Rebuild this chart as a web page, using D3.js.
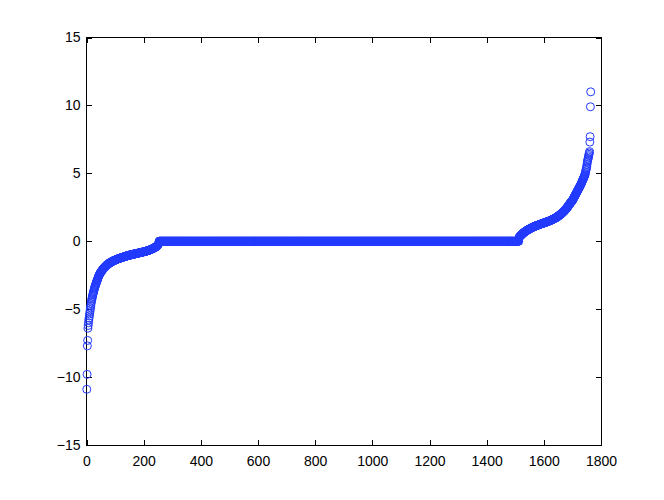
<!DOCTYPE html>
<html>
<head>
<meta charset="utf-8">
<title>Sorted values</title>
<style>
body { margin: 0; background: #fff; }
svg { display: block; }
</style>
<script src="https://d3js.org/d3.v7.min.js"></script>
</head>
<body>
<script>
// left tail, one value per index starting at index 1
var leftVal = [-10.9, -9.8, -7.7, -7.3, -6.4,
  -6.2, -6.0, -5.8, -5.65, -5.5, -5.35, -5.2, -5.05, -4.9, -4.75,
  -4.6, -4.47, -4.35, -4.25, -4.15, -4.05, -3.95, -3.87, -3.78, -3.7,
  -3.62, -3.53, -3.45, -3.39, -3.32, -3.26, -3.2, -3.14, -3.07, -3.01,
  -2.95, -2.89, -2.84, -2.78, -2.72, -2.67, -2.61, -2.56, -2.5, -2.45,
  -2.42, -2.38, -2.35, -2.31, -2.28, -2.25, -2.22, -2.19, -2.16, -2.13, -2.1,
  -2.07, -2.05, -2.02, -2.0, -1.97, -1.95,
  -1.93, -1.91, -1.89, -1.86, -1.84, -1.82, -1.8, -1.78,
  -1.76, -1.74, -1.73, -1.71, -1.69, -1.67, -1.66, -1.64,
  -1.63, -1.61, -1.6, -1.58, -1.57, -1.56, -1.54, -1.53,
  -1.52, -1.51, -1.5, -1.49, -1.47, -1.46, -1.45, -1.44, -1.43,
  -1.42, -1.41, -1.4, -1.4, -1.39, -1.38, -1.37, -1.36, -1.35, -1.34,
  -1.33, -1.32, -1.32, -1.31, -1.3, -1.29, -1.28, -1.28, -1.27, -1.26,
  -1.25, -1.25, -1.24, -1.23, -1.22, -1.22, -1.21, -1.2, -1.2, -1.19,
  -1.18, -1.18, -1.17, -1.16, -1.16, -1.15, -1.14, -1.14, -1.13, -1.12,
  -1.11, -1.11, -1.1, -1.1, -1.09, -1.08, -1.08, -1.07, -1.07, -1.06,
  -1.05, -1.05, -1.04, -1.04, -1.03, -1.02, -1.02, -1.01, -1.01, -1.0,
  -1.0, -0.99, -0.99, -0.98, -0.98, -0.97, -0.97, -0.96, -0.96, -0.95,
  -0.95, -0.94, -0.94, -0.93, -0.93, -0.92, -0.92, -0.91, -0.91, -0.9,
  -0.9, -0.89, -0.89, -0.88, -0.88, -0.87, -0.87, -0.86, -0.86, -0.85,
  -0.85, -0.84, -0.84, -0.83, -0.83, -0.82, -0.82, -0.81, -0.81, -0.8,
  -0.8, -0.79, -0.79, -0.78, -0.78, -0.77, -0.77, -0.76, -0.76, -0.75,
  -0.74, -0.74, -0.73, -0.73, -0.72, -0.72, -0.71, -0.7, -0.7, -0.69,
  -0.68, -0.67, -0.67, -0.66, -0.65, -0.65, -0.64,
  -0.63, -0.62, -0.61, -0.6, -0.59, -0.58,
  -0.57, -0.56, -0.55, -0.54, -0.53, -0.52,
  -0.51, -0.5, -0.48, -0.47, -0.46, -0.45,
  -0.44, -0.42, -0.41, -0.4, -0.38,
  -0.36, -0.34, -0.32, -0.3,
  -0.27, -0.23, -0.2, -0.15];

// right tail, one value per index starting at rightStart
var rightStart = 1513;
var rightVal = [0.25,
  0.3, 0.33, 0.35, 0.38, 0.4,
  0.42, 0.44, 0.46, 0.48, 0.5,
  0.52, 0.54, 0.56, 0.58, 0.6,
  0.62, 0.63, 0.65, 0.67, 0.68, 0.7,
  0.71, 0.73, 0.74, 0.76, 0.77, 0.79, 0.8,
  0.81, 0.82, 0.84, 0.85, 0.86, 0.87, 0.89, 0.9,
  0.91, 0.92, 0.93, 0.94, 0.96, 0.97, 0.98, 0.99, 1.0,
  1.01, 1.02, 1.03, 1.04, 1.05, 1.06, 1.07, 1.08, 1.09, 1.1,
  1.11, 1.12, 1.12, 1.13, 1.14, 1.15, 1.16, 1.16, 1.17, 1.18,
  1.19, 1.2, 1.2, 1.21, 1.22, 1.23, 1.23, 1.24, 1.25, 1.26, 1.26, 1.27,
  1.28, 1.29, 1.29, 1.3, 1.31, 1.32, 1.32, 1.33, 1.34, 1.35, 1.35, 1.36,
  1.37, 1.38, 1.38, 1.39, 1.4, 1.41, 1.41, 1.42, 1.43, 1.44, 1.44, 1.45,
  1.46, 1.47, 1.48, 1.49, 1.5, 1.5, 1.51, 1.52, 1.53, 1.54, 1.55,
  1.56, 1.57, 1.58, 1.59, 1.6, 1.61, 1.62, 1.63, 1.64, 1.65, 1.66,
  1.67, 1.68, 1.7, 1.71, 1.72, 1.73, 1.74, 1.76, 1.77, 1.78,
  1.8, 1.81, 1.83, 1.84, 1.86, 1.87, 1.89, 1.9, 1.92,
  1.94, 1.95, 1.97, 1.99, 2.01, 2.02, 2.04, 2.06,
  2.08, 2.1, 2.12, 2.14, 2.16, 2.18, 2.2,
  2.22, 2.24, 2.27, 2.29, 2.31, 2.34, 2.36,
  2.39, 2.41, 2.44, 2.47, 2.49, 2.52,
  2.55, 2.58, 2.61, 2.64, 2.67, 2.7,
  2.73, 2.76, 2.79, 2.82, 2.85, 2.88,
  2.9, 2.93, 2.95, 2.98, 3.0,
  3.04, 3.08, 3.12, 3.16, 3.2,
  3.24, 3.28, 3.32, 3.36, 3.4,
  3.44, 3.48, 3.52, 3.56, 3.6,
  3.64, 3.68, 3.72, 3.76, 3.8,
  3.84, 3.88, 3.92, 3.96, 4.0,
  4.04, 4.08, 4.12, 4.16, 4.2,
  4.25, 4.3, 4.35, 4.4, 4.45,
  4.5, 4.55, 4.6, 4.65, 4.7,
  4.75, 4.8, 4.85, 4.9,
  5.0, 5.1, 5.2,
  5.3, 5.4, 5.5,
  5.65, 5.8, 5.9, 6.0,
  6.1, 6.2, 6.3, 6.4,
  6.5, 6.6,
  7.3, 7.7, 9.9, 11.0];

var xTicks = [0, 200, 400, 600, 800, 1000, 1200, 1400, 1600, 1800];
var yTicks = [-15, -10, -5, 0, 5, 10, 15];

var W = 664, H = 500;
var m = {left: 86.5, right: 601, top: 37.5, bottom: 445};

var x = d3.scaleLinear().domain([0, 1800]).range([m.left, m.right]);
var y = d3.scaleLinear().domain([-15, 15]).range([m.bottom, m.top]);

// points: left tail, the zero run in between, right tail
var pts = [];
leftVal.forEach(function(v, i) { pts.push([i + 1, v]); });
d3.range(leftVal.length + 1, rightStart).forEach(function(d) { pts.push([d, 0]); });
rightVal.forEach(function(v, i) { pts.push([rightStart + i, v]); });

var svg = d3.select("body").append("svg")
    .attr("width", W)
    .attr("height", H);

svg.append("rect")
    .attr("width", W).attr("height", H)
    .attr("fill", "#fff");

var fmt = function(d) { return d < 0 ? "\u2212" + Math.abs(d) : String(d); };

// axes with inward ticks on all four sides
var tick = 5;
svg.append("g")
    .attr("transform", "translate(0," + m.bottom + ")")
    .call(d3.axisBottom(x).tickValues(xTicks).tickSizeInner(-tick).tickSizeOuter(0).tickPadding(11).tickFormat(fmt));
svg.append("g")
    .attr("transform", "translate(0," + m.top + ")")
    .call(d3.axisTop(x).tickValues(xTicks).tickSizeInner(-tick).tickSizeOuter(0).tickFormat(""));
svg.append("g")
    .attr("transform", "translate(" + m.left + ",0)")
    .call(d3.axisLeft(y).tickValues(yTicks).tickSizeInner(-tick).tickSizeOuter(0).tickPadding(6).tickFormat(fmt));
svg.append("g")
    .attr("transform", "translate(" + m.right + ",0)")
    .call(d3.axisRight(y).tickValues(yTicks).tickSizeInner(-tick).tickSizeOuter(0).tickFormat(""));

svg.selectAll(".domain").remove();
svg.selectAll(".tick line").attr("stroke", "#000").attr("shape-rendering", "crispEdges");
svg.selectAll(".tick text")
    .style("font-family", "'Liberation Sans', Arial, sans-serif")
    .style("font-size", "14px")
    .attr("fill", "#000");

svg.append("rect")
    .attr("x", m.left).attr("y", m.top)
    .attr("width", m.right - m.left).attr("height", m.bottom - m.top)
    .attr("fill", "none")
    .attr("stroke", "#000")
    .attr("stroke-width", 1)
    .attr("shape-rendering", "crispEdges");

svg.append("g")
    .selectAll("circle")
    .data(pts)
    .enter().append("circle")
        .attr("cx", function(d) { return x(d[0]); })
        .attr("cy", function(d) { return y(d[1]); })
        .attr("r", 4)
        .attr("fill", "none")
        .attr("stroke", "#223aff")
        .attr("stroke-width", 1);
</script>
</body>
</html>
